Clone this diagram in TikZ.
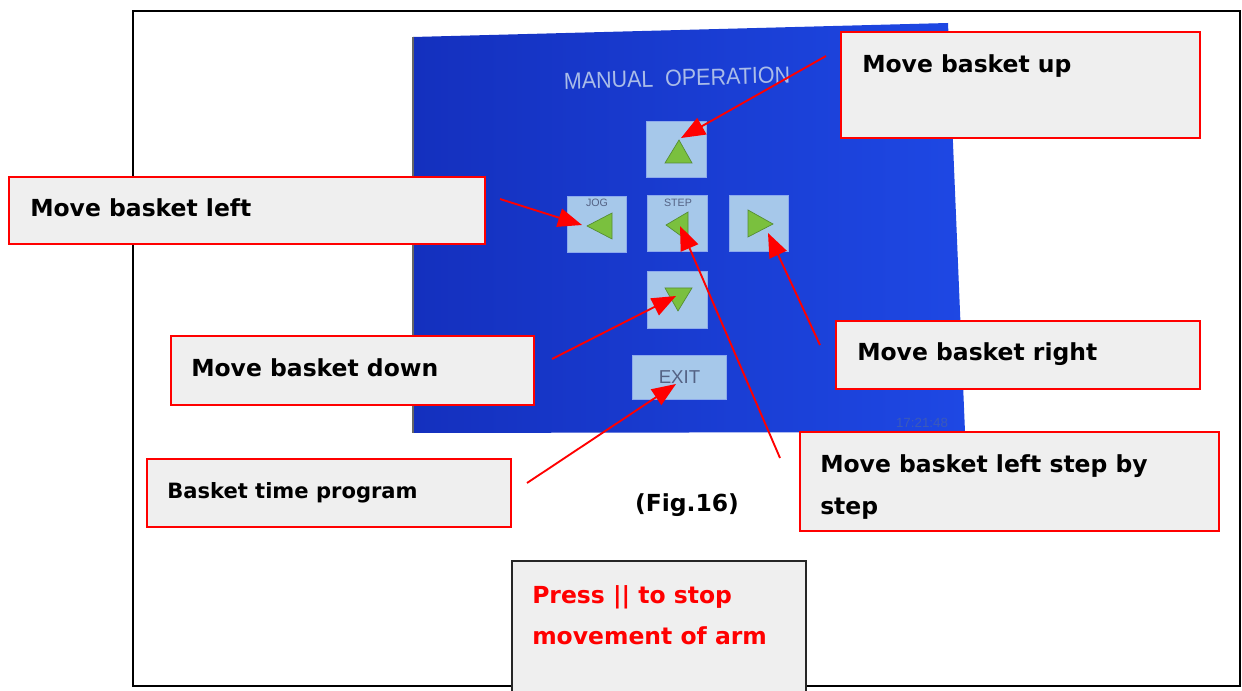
\documentclass[tikz,border=0pt]{standalone}
\usepackage{fontspec}
\setmainfont{DejaVu Sans}
\newfontfamily\panelfont{Liberation Sans}
\usetikzlibrary{arrows.meta}

\definecolor{calloutfill}{RGB}{239,239,239}
\definecolor{screenleft}{RGB}{20,48,190}
\definecolor{screenright}{RGB}{30,72,228}
\definecolor{keyblue}{RGB}{166,200,234}
\definecolor{keygreen}{RGB}{122,192,62}
\definecolor{keyedge}{RGB}{84,140,52}
\definecolor{keytext}{RGB}{84,98,132}
\definecolor{titlegrey}{RGB}{170,188,232}
\definecolor{clockblue}{RGB}{60,90,185}

\tikzset{
  callout/.style={draw=red, line width=1.6pt, fill=calloutfill, inner sep=0pt},
  notebox/.style={draw=black!85, line width=1.4pt, fill=calloutfill, inner sep=0pt},
  lbl/.style={font=\fontsize{17.6}{31.5}\selectfont\bfseries, anchor=base west, inner sep=0pt},
  panelkey/.style={fill=keyblue, draw=keyblue!85!blue, line width=0.6pt, inner sep=0pt,
                   minimum width=44.5pt, minimum height=42.5pt},
  arrowhint/.style={fill=keygreen, draw=keyedge, line width=0.5pt},
  pointer/.style={red, line width=1.4pt, -{Triangle[length=18pt,width=14pt]}},
}

\begin{document}
\begin{tikzpicture}[x=0.75pt,y=-0.75pt]

\useasboundingbox (0,0) rectangle (1242,691);

\begin{scope}

% page frame
\draw[line width=1.1pt] (133,11) rectangle (1240,686);

% touch screen
\shade[left color=screenleft, right color=screenright] (413,37) -- (948,23) -- (965,432) -- (413,433) -- cycle;
\draw[black!60, line width=1pt] (413,37) -- (413,433);

\node[font=\panelfont\fontsize{17.5}{17.5}\selectfont, text=titlegrey, xscale=0.92, rotate=1.5] at (677,78)(title){MANUAL\ \ OPERATION};
\node[font=\panelfont\fontsize{10}{10}\selectfont, text=clockblue] at (922,423)(clock){17:21:48};

%keys
\node[panelkey] at (676.5,149.5)(upkey){};
\node[panelkey] at (597,224.5)(jogkey){};
\node[panelkey] at (677.5,223.5)(stepkey){};
\node[panelkey] at (759,223.5)(rightkey){};
\node[panelkey] at (677.5,300)(downkey){};
\node[panelkey, minimum width=71pt, minimum height=33pt, font=\panelfont\fontsize{14}{14}\selectfont, text=keytext] at (679.5,377)(exitkey){EXIT};

\node[font=\panelfont\fontsize{8}{8}\selectfont, text=keytext] at (597,203)(jog){JOG};
\node[font=\panelfont\fontsize{8}{8}\selectfont, text=keytext] at (678,203)(step){STEP};

\draw[arrowhint] (665,163) -- (692,163) -- (679,140) -- cycle;
\draw[arrowhint] (587,226) -- (612,213) -- (612,239) -- cycle;
\draw[arrowhint] (666,225) -- (688,212) -- (688,241) -- cycle;
\draw[arrowhint] (773,224) -- (748,210) -- (748,237) -- cycle;
\draw[arrowhint] (665,288) -- (692,288) -- (678,311) -- cycle;

%pointers
\coordinate (upfrom) at (826,56);
\coordinate (upto) at (681,138);
\coordinate (leftfrom) at (500,199);
\coordinate (leftto) at (582,225);
\coordinate (stepfrom) at (780,458);
\coordinate (stepto) at (680,226);
\coordinate (rightfrom) at (820,345);
\coordinate (rightto) at (768,233);
\coordinate (downfrom) at (552,359);
\coordinate (downto) at (676,296);
\coordinate (progfrom) at (527,483);
\coordinate (progto) at (676,384);

\draw[pointer] (upfrom) -- (upto);
\draw[pointer] (leftfrom) -- (leftto);
\draw[pointer] (stepfrom) -- (stepto);
\draw[pointer] (rightfrom) -- (rightto);
\draw[pointer] (downfrom) -- (downto);
\draw[pointer] (progfrom) -- (progto);

%callouts
\node[callout, minimum width=269.25pt, minimum height=79.5pt] at (1020.5,85)(upbox){};
\node[callout, minimum width=357pt, minimum height=50.25pt] at (247,210.5)(leftbox){};
\node[callout, minimum width=273pt, minimum height=51pt] at (1018,355)(rightbox){};
\node[callout, minimum width=272.25pt, minimum height=51.75pt] at (352.5,370.5)(downbox){};
\node[callout, minimum width=273pt, minimum height=51pt] at (329,493)(progbox){};
\node[callout, minimum width=314.25pt, minimum height=74.25pt] at (1009.5,481.5)(stepbox){};
\node[notebox, minimum width=220.5pt, minimum height=104.25pt] at (659,630.5)(pressbox){};

\node[lbl] at (862,73)(uptext){Move basket up};
\node[lbl] at (30,217)(lefttext){Move basket left};
\node[lbl] at (857,361)(righttext){Move basket right};
\node[lbl] at (191,377)(downtext){Move basket down};
\node[lbl, font=\fontsize{15.8}{20}\selectfont\bfseries] at (167,498)(progtext){Basket time program};
\node[lbl, align=left] at (820,514)(steptext){Move basket left step by\\step};
\node[lbl, align=left, text=red, font=\fontsize{17.6}{30.75}\selectfont\bfseries] at (532,644)(presstext){Press || to stop\\movement of arm};

\node[lbl, anchor=base] at (687,511)(fig){(Fig.16)};

\end{scope}

\end{tikzpicture}
\end{document}
